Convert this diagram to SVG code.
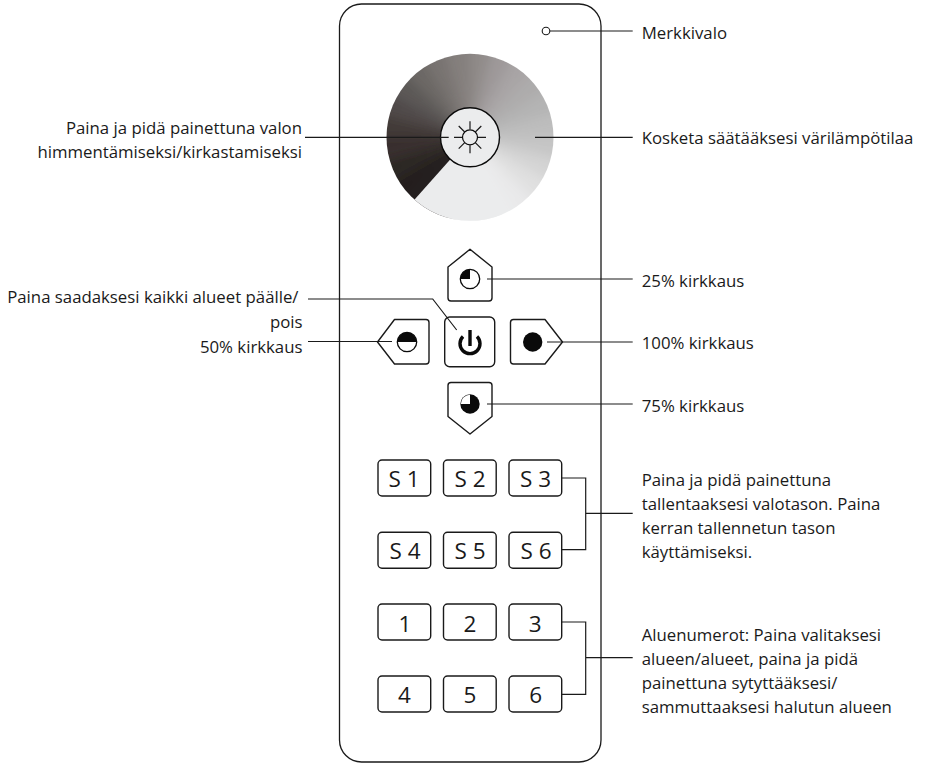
<svg xmlns="http://www.w3.org/2000/svg" width="925" height="764" viewBox="0 0 925 764">
<style>
text{font-family:"Open Sans","Noto Sans",sans-serif;font-size:16.8px;fill:#1a1a1a}
.k{font-size:22.5px;text-anchor:middle}
.e{text-anchor:end}
.b{fill:#fff;stroke:#1a1a1a;stroke-width:1.4;stroke-linejoin:round}
.l{fill:none;stroke:#1a1a1a;stroke-width:1.2}
.f{fill:#0a0a0a}
</style>
<defs>
<clipPath id="wc"><circle cx="470" cy="137.3" r="83.5"/></clipPath>
<filter id="bl" x="-10%" y="-10%" width="120%" height="120%"><feGaussianBlur stdDeviation="6"/></filter>
</defs>
<rect id="body" x="339.5" y="4" width="261.5" height="758" rx="22" fill="#fff" stroke="#1a1a1a" stroke-width="1.3"/>
<g id="wheel">
<g clip-path="url(#wc)">
<g filter="url(#bl)">
<path fill="#908b89" d="M470 137L470 37L495.9 40.4Z"/>
<path fill="#9e999a" d="M470 137L495.9 40.4L520 50.4Z"/>
<path fill="#a8a4a5" d="M470 137L520 50.4L540.7 66.3Z"/>
<path fill="#adacac" d="M470 137L540.7 66.3L556.6 87Z"/>
<path fill="#b4b4b4" d="M470 137L556.6 87L566.6 111.1Z"/>
<path fill="#bdbdbd" d="M470 137L566.6 111.1L570 137Z"/>
<path fill="#c6c6c6" d="M470 137L570 137L566.6 162.9Z"/>
<path fill="#d4d4d4" d="M470 137L566.6 162.9L556.6 187Z"/>
<path fill="#e0e0e0" d="M470 137L556.6 187L540.7 207.7Z"/>
<path fill="#e9e9ea" d="M470 137L540.7 207.7L520 223.6Z"/>
<path fill="#ebeced" d="M470 137L520 223.6L470 237Z"/>
<path fill="#221f1c" d="M470 137L420 223.6L399.3 207.7Z"/>
<path fill="#221f1c" d="M470 137L444.1 233.6L420 223.6Z"/>
<path fill="#221f1c" d="M470 137L399.3 207.7L383.4 187Z"/>
<path fill="#2a2623" d="M470 137L383.4 187L373.4 162.9Z"/>
<path fill="#372f2d" d="M470 137L373.4 162.9L370 137Z"/>
<path fill="#423b39" d="M470 137L370 137L373.4 111.1Z"/>
<path fill="#4f4a49" d="M470 137L373.4 111.1L383.4 87Z"/>
<path fill="#5c5857" d="M470 137L383.4 87L399.3 66.3Z"/>
<path fill="#6c6765" d="M470 137L399.3 66.3L420 50.4Z"/>
<path fill="#787371" d="M470 137L420 50.4L444.1 40.4Z"/>
<path fill="#847f7d" d="M470 137L444.1 40.4L470 37Z"/>
</g>
<path fill="#ebeced" d="M470 137.3L505 223L470 237L444.1 233.6L403.7 211.8Z"/>
</g>
<circle cx="470" cy="137.3" r="29.5" fill="#ebeced" stroke="#0a0a0a" stroke-width="1.4"/>
<circle cx="470" cy="137.3" r="7.5" fill="none" stroke="#0a0a0a" stroke-width="1.2"/>
<path class="l" d="M470 121.3V129.3M470 145.3V153.3M454 137.3H462M478 137.3H486M458.7 126L464.7 132M475.3 142.6L481.3 148.6M458.7 148.6L464.7 142.6M475.3 132L481.3 126"/>
</g>
<g id="led"><circle cx="546" cy="31" r="3.8" fill="#fff" stroke="#1a1a1a" stroke-width="1.1"/></g>
<g id="btn-25"><path class="b" d="M470 249.3L492 267V298a3 3 0 0 1-3 3H451a3 3 0 0 1-3-3V267Z"/><circle cx="470" cy="279" r="9.7" fill="#fff" stroke="#0a0a0a" stroke-width="1.3"/><path class="f" d="M470 279V269.3A9.7 9.7 0 0 0 460.3 279Z"/></g>
<g id="btn-75"><path class="b" d="M451 382.5H489a3 3 0 0 1 3 3V416.5L470 434L448 416.5V385.5a3 3 0 0 1 3-3Z"/><circle cx="470" cy="404" r="9.7" class="f"/><path fill="#fff" d="M470 404V394.8A9.2 9.2 0 0 0 460.8 404Z"/></g>
<g id="btn-50"><path class="b" d="M377.5 342L394.5 319.5H426a3 3 0 0 1 3 3V361a3 3 0 0 1-3 3H394.5Z"/><circle cx="407" cy="342" r="9.7" fill="#fff" stroke="#0a0a0a" stroke-width="1.3"/><path class="f" d="M397.3 342A9.7 9.7 0 0 1 416.7 342Z"/></g>
<g id="btn-100"><path class="b" d="M562.5 342L545 319.5H513.5a3 3 0 0 0-3 3V361a3 3 0 0 0 3 3H545Z"/><circle cx="532.7" cy="342" r="9.7" class="f"/></g>
<g id="btn-power"><rect class="b" x="444.7" y="317" width="50" height="49.7" rx="5"/><path d="M463 336.5A10 10 0 1 0 477 336.5" fill="none" stroke="#0a0a0a" stroke-width="3.4"/><path d="M470 330V346" stroke="#0a0a0a" stroke-width="3.4"/></g>
<g id="s1"><rect class="b" x="378" y="460" width="52.7" height="36" rx="4"/><text class="k" x="404" y="486.7">S 1</text></g>
<g id="s2"><rect class="b" x="443.5" y="460" width="52.7" height="36" rx="4"/><text class="k" x="470" y="486.7">S 2</text></g>
<g id="s3"><rect class="b" x="509" y="460" width="52.7" height="36" rx="4"/><text class="k" x="535.5" y="486.7">S 3</text></g>
<g id="s4"><rect class="b" x="378" y="532.3" width="52.7" height="36" rx="4"/><text class="k" x="405" y="558.5">S 4</text></g>
<g id="s5"><rect class="b" x="443.5" y="532.3" width="52.7" height="36" rx="4"/><text class="k" x="470" y="558.5">S 5</text></g>
<g id="s6"><rect class="b" x="509" y="532.3" width="52.7" height="36" rx="4"/><text class="k" x="536" y="558.5">S 6</text></g>
<g id="n1"><rect class="b" x="378" y="604" width="52.7" height="36" rx="4"/><text class="k" x="405" y="631.5">1</text></g>
<g id="n2"><rect class="b" x="443.5" y="604" width="52.7" height="36" rx="4"/><text class="k" x="470" y="631.5">2</text></g>
<g id="n3"><rect class="b" x="509" y="604" width="52.7" height="36" rx="4"/><text class="k" x="535.3" y="631.5">3</text></g>
<g id="n4"><rect class="b" x="378" y="676" width="52.7" height="36" rx="4"/><text class="k" x="404.5" y="703">4</text></g>
<g id="n5"><rect class="b" x="443.5" y="676" width="52.7" height="36" rx="4"/><text class="k" x="470" y="703">5</text></g>
<g id="n6"><rect class="b" x="509" y="676" width="52.7" height="36" rx="4"/><text class="k" x="535.8" y="703">6</text></g>
<g id="connectors">
<path class="l" d="M550 31H632.7"/>
<path class="l" d="M305 137.3H448.7"/>
<path class="l" d="M535 137.3H632.7"/>
<path class="l" d="M487 279H632.7"/>
<path class="l" d="M487 404H632.7"/>
<path class="l" d="M308 299H432.7L456.7 330"/>
<path class="l" d="M308 341.5H392"/>
<path class="l" d="M547 342H632.7"/>
<path class="l" d="M561.7 478H585.7V549.7H561.7M585.7 513.3H632.7"/>
<path class="l" d="M561.7 622H585.7V694.3H561.7M585.7 657.7H632.7"/>
</g>
<g id="labels">
<text x="641.7" y="38.5">Merkkivalo</text>
<text x="641.7" y="144">Kosketa säätääksesi värilämpötilaa</text>
<text x="641.7" y="286.7">25% kirkkaus</text>
<text x="641.7" y="348.5">100% kirkkaus</text>
<text x="641.7" y="412">75% kirkkaus</text>
<text x="641.7" y="486">Paina ja pidä painettuna</text>
<text x="641.7" y="510">tallentaaksesi valotason. Paina</text>
<text x="641.7" y="534.3">kerran tallennetun tason</text>
<text x="641.7" y="558.3">käyttämiseksi.</text>
<text x="641.7" y="641.3">Aluenumerot: Paina valitaksesi</text>
<text x="641.7" y="665">alueen/alueet, paina ja pidä</text>
<text x="641.7" y="689">painettuna sytyttääksesi/</text>
<text x="641.7" y="713">sammuttaaksesi halutun alueen</text>
<text class="e" x="302" y="134">Paina ja pidä painettuna valon</text>
<text class="e" x="302" y="158">himmentämiseksi/kirkastamiseksi</text>
<text class="e" x="298.5" y="302.7">Paina saadaksesi kaikki alueet päälle/</text>
<text class="e" x="302.5" y="327.5">pois</text>
<text class="e" x="302.5" y="353">50% kirkkaus</text>
</g>
</svg>
